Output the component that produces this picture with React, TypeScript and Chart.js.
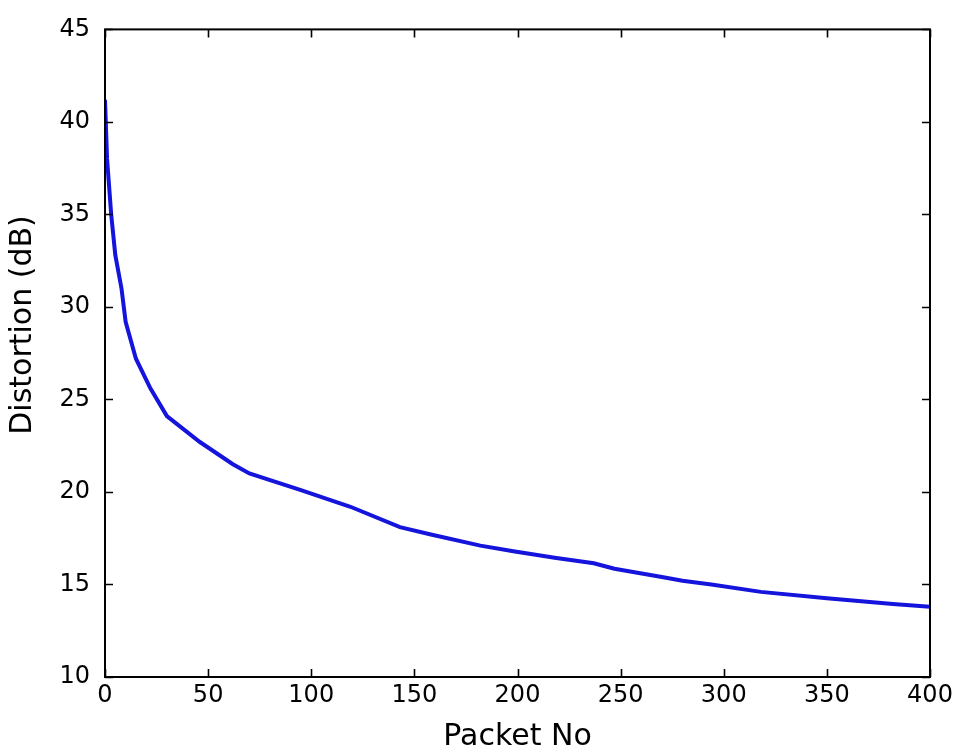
import React, { useEffect, useRef } from "react";
import { Chart, registerables } from "chart.js";

Chart.register(...registerables);

// Data
const packetNo = [0, 1, 3, 5, 8, 10, 15, 22, 30, 46, 62, 70, 95, 119, 143, 158, 182, 198, 218, 237, 247, 270, 280, 294, 318, 350, 382, 400];
const distortion = [41.2, 38.0, 35.0, 32.8, 31.0, 29.2, 27.2, 25.6, 24.1, 22.7, 21.5, 21.0, 20.1, 19.2, 18.1, 17.7, 17.1, 16.8, 16.45, 16.15, 15.85, 15.4, 15.2, 15.0, 14.6, 14.25, 13.95, 13.8];

const xTicks = [0, 50, 100, 150, 200, 250, 300, 350, 400];
const yTicks = [10, 15, 20, 25, 30, 35, 40, 45];

const xTitle = "Packet No";
const yTitle = "Distortion (dB)";

const FONT = "'DejaVu Sans', sans-serif";

const frameTicks = {
  id: "frameTicks",
  afterDatasetsDraw(chart: any) {
    const { ctx, chartArea: a, scales } = chart;
    const x = scales.x;
    const y = scales.y;
    ctx.save();
    ctx.strokeStyle = "#000";
    ctx.lineWidth = 2;
    ctx.strokeRect(a.left, a.top, a.right - a.left, a.bottom - a.top);
    ctx.lineWidth = 1.6;
    const L = 8;
    ctx.beginPath();
    xTicks.forEach((v) => {
      const px = Math.round(x.getPixelForValue(v)) + 0.5;
      ctx.moveTo(px, a.bottom);
      ctx.lineTo(px, a.bottom - L);
      ctx.moveTo(px, a.top);
      ctx.lineTo(px, a.top + L);
    });
    yTicks.forEach((v) => {
      const py = Math.round(y.getPixelForValue(v)) + 0.5;
      ctx.moveTo(a.left, py);
      ctx.lineTo(a.left + L, py);
      ctx.moveTo(a.right, py);
      ctx.lineTo(a.right - L, py);
    });
    ctx.stroke();

    // y axis title
    ctx.fillStyle = "#000";
    ctx.font = `30px ${FONT}`;
    ctx.textAlign = "center";
    ctx.textBaseline = "middle";
    ctx.translate(23, 325);
    ctx.rotate(-Math.PI / 2);
    ctx.fillText(yTitle, 0, 0);
    ctx.restore();
  },
};

export default function App() {
  const ref = useRef<HTMLCanvasElement | null>(null);

  useEffect(() => {
    if (!ref.current) return;
    const chart = new Chart(ref.current, {
      type: "line",
      data: {
        datasets: [
          {
            data: packetNo.map((p, i) => ({ x: p, y: distortion[i] })),
            borderColor: "#1414dc",
            borderWidth: 4,
            pointRadius: 0,
            tension: 0,
            fill: false,
          },
        ],
      },
      options: {
        animation: false,
        responsive: false,
        maintainAspectRatio: false,
        layout: { padding: { left: 0, top: 26, right: 28, bottom: 0 } },
        plugins: {
          legend: { display: false },
          tooltip: { enabled: false },
        },
        scales: {
          x: {
            type: "linear",
            min: 0,
            max: 400,
            grid: { display: false, drawTicks: false },
            border: { display: false },
            afterBuildTicks: (s: any) => {
              s.ticks = xTicks.map((v) => ({ value: v }));
            },
            afterFit: (s: any) => {
              s.height = 78;
            },
            ticks: {
              padding: 4,
              maxRotation: 0,
              autoSkip: false,
              color: "#000",
              font: { family: FONT, size: 24 },
            },
            title: {
              display: true,
              text: xTitle,
              color: "#000",
              padding: { top: 0, bottom: 0 },
              font: { family: FONT, size: 30 },
            },
          },
          y: {
            type: "linear",
            min: 10,
            max: 45,
            grid: { display: false, drawTicks: false },
            border: { display: false },
            afterBuildTicks: (s: any) => {
              s.ticks = yTicks.map((v) => ({ value: v }));
            },
            afterFit: (s: any) => {
              s.width = 105;
            },
            ticks: {
              padding: 15,
              autoSkip: false,
              color: "#000",
              font: { family: FONT, size: 24 },
            },
          },
        },
      },
      plugins: [frameTicks],
    });
    return () => chart.destroy();
  }, []);

  return (
    <div style={{ position: "absolute", left: 0, top: 0, width: 958, height: 755, background: "#fff" }}>
      <canvas ref={ref} width={958} height={755} style={{ display: "block" }} />
    </div>
  );
}
